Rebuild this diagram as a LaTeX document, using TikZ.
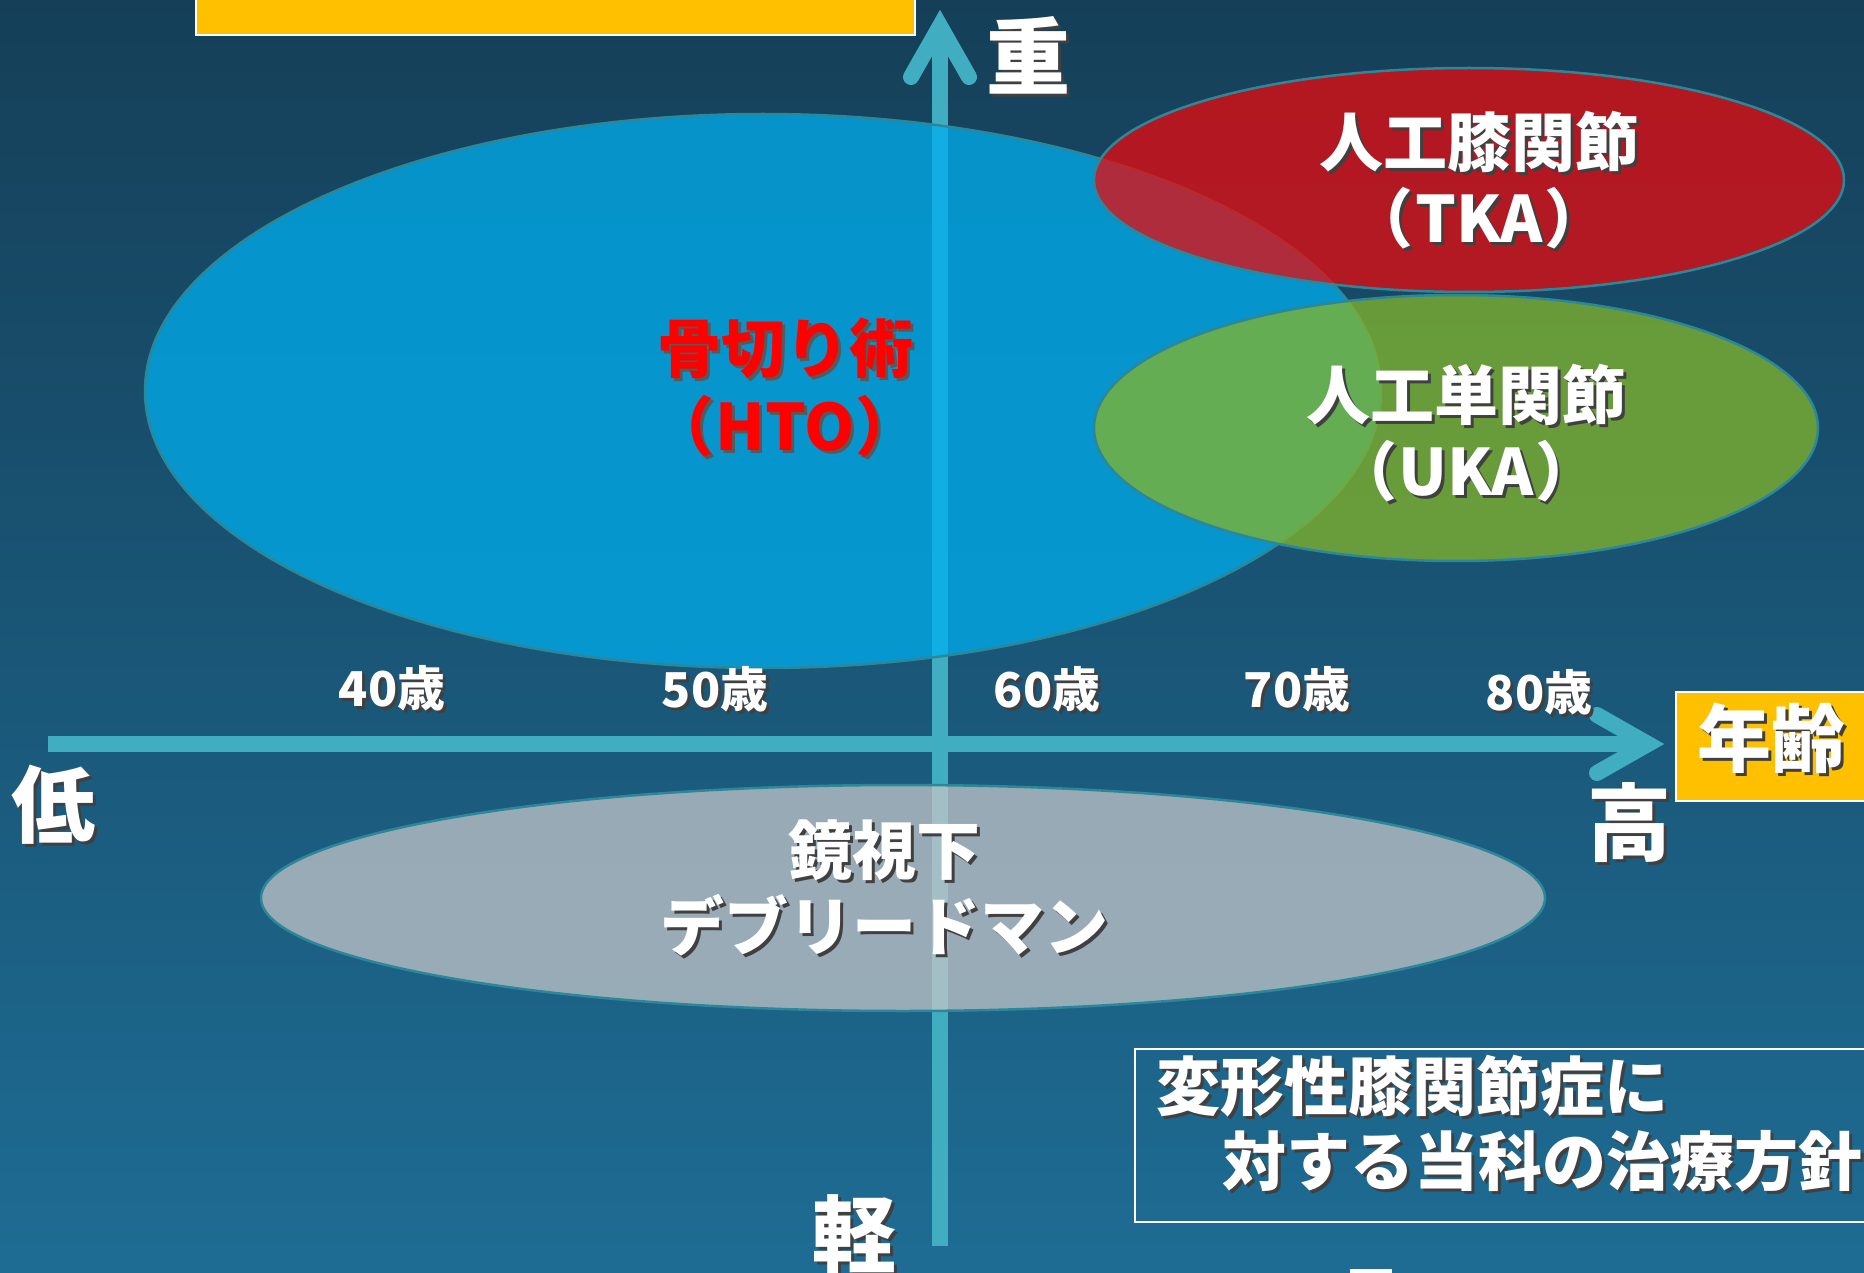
\documentclass[tikz,border=0pt]{standalone}
\usepackage{fontspec}
\setmainfont{Noto Sans CJK JP}
\newfontfamily\jpp{Noto Sans CJK JP}[RawFeature=+palt]
\definecolor{bgtop}{HTML}{153F58}
\definecolor{bgbot}{HTML}{1E6C94}
\definecolor{axisc}{HTML}{40AEC0}
\definecolor{edgec}{HTML}{2C8898}
\definecolor{ppyellow}{HTML}{FFC000}
\definecolor{htoc}{HTML}{00AEEE}
\definecolor{tkac}{HTML}{E80A0E}
\definecolor{ukac}{HTML}{84B62A}
\definecolor{grayc}{HTML}{C2C5C8}
\newcommand\shd[2][black!75]{\makebox[0pt][l]{\hspace{3pt}\raisebox{-3pt}{\color{#1}#2}}#2}
\tikzset{
  bigtxt/.style={text=white, font=\bfseries\fontsize{84}{90}\selectfont, inner sep=0pt},
  labtxt/.style={text=white, font=\bfseries\fontsize{64}{70}\selectfont, inner sep=0pt},
  agetxt/.style={text=white, font=\bfseries\fontsize{48}{54}\selectfont, inner sep=0pt},
  axisline/.style={draw=axisc, line width=16pt, line cap=round, line join=miter},
  zone/.style={draw=edgec, line width=2.5pt, fill opacity=0.75},
}
\begin{document}
\begin{tikzpicture}[x=1pt, y=-1pt]
\useasboundingbox (0,0) rectangle (1864,1273);
\clip (0,0) rectangle (1864,1273);
\shade[top color=bgtop, bottom color=bgbot] (0,0) rectangle (1864,1273);

% top yellow box (cut off)
\draw[white, line width=2pt, fill=ppyellow] (196,-10) rectangle (915,35);

% axes
\coordinate (xs) at (48,744);
\coordinate (xe) at (1648,744);
\coordinate (xa1) at (1597,715);
\coordinate (xa2) at (1597,773);
\coordinate (ys) at (940,1246);
\coordinate (ye) at (940,26);
\coordinate (ya1) at (911,77);
\coordinate (ya2) at (969,77);
\draw[axisline, line cap=butt] (xs) -- (xe);
\draw[axisline] (xa1) -- (xe) -- (xa2);
\draw[axisline, line cap=butt] (ys) -- (ye);
\draw[axisline] (ya1) -- (ye) -- (ya2);

% zones
\draw[zone, fill=htoc] (763,391) ellipse [x radius=618, y radius=277];
\draw[zone, fill=tkac] (1469,180) ellipse [x radius=375, y radius=112];
\draw[zone, fill=ukac] (1456,428) ellipse [x radius=362, y radius=133];
\draw[zone, fill=grayc] (903,898) ellipse [x radius=642, y radius=113];

% axis labels
\node[bigtxt] (heavy) at (1028,57) {\shd{重}};
\node[bigtxt] (low) at (53,806) {\shd{低}};
\node[bigtxt] (high) at (1629,824) {\shd{高}};
\node[bigtxt] (light) at (854,1236) {\shd{軽}};

% age box
\draw[white, line width=2pt, fill=ppyellow] (1676,692) rectangle (1880,801);
\node[text=white, font=\bfseries\fontsize{74}{80}\selectfont, inner sep=0pt] (age) at (1771,740) {\shd{年齢}};

% age ticks
\node[agetxt] (a40) at (392,690) {\shd{40歳}};
\node[agetxt] (a50) at (715,691) {\shd{50歳}};
\node[agetxt] (a60) at (1047,691) {\shd{60歳}};
\node[agetxt] (a70) at (1297,691) {\shd{70歳}};
\node[agetxt] (a80) at (1539,694) {\shd{80歳}};

% zone texts
\node[labtxt, text=red] (hto1) at (785,350) {\shd[black!65]{骨切り術}};
\node[labtxt, text=red] (hto2) at (785,428) {\jpp\shd[black!65]{（\hspace{4pt}HTO\hspace{4pt}）}};
\node[labtxt] (tka1) at (1479,143) {\shd{人工膝関節}};
\node[labtxt] (tka2) at (1479,220) {\jpp\shd{（\hspace{4pt}TKA\hspace{4pt}）}};
\node[labtxt] (uka1) at (1466,396) {\shd{人工単関節}};
\node[labtxt] (uka2) at (1466,473) {\jpp\shd{（\hspace{4pt}UKA\hspace{4pt}）}};
\node[labtxt] (dbr1) at (884,852) {\shd{鏡視下}};
\node[labtxt] (dbr2) at (884,927) {\shd{デブリードマン}};

% title box
\draw[white, line width=2pt] (1135,1049) rectangle (1880,1222);
\node[labtxt, anchor=west] (t1) at (1156,1088) {\shd{変形性膝関節症に}};
\node[labtxt, anchor=west] (t2) at (1222,1163) {\shd{対する当科の治療方針}};

% small cut-off mark at bottom
\fill[white] (1350,1269) rectangle (1392,1280);
\end{tikzpicture}
\end{document}
